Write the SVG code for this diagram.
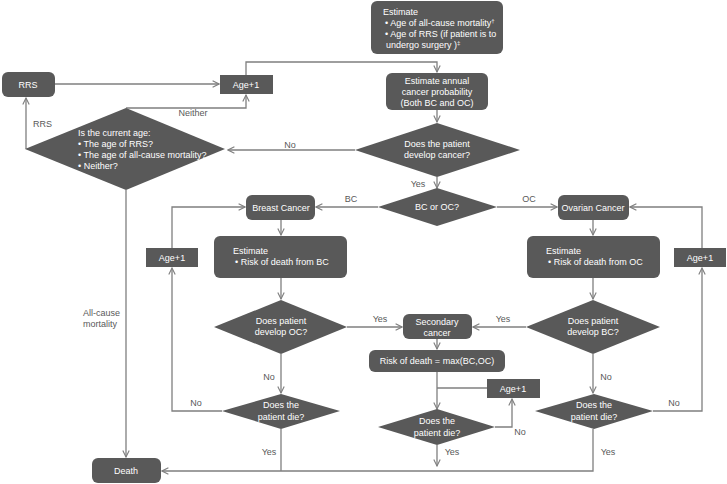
<svg xmlns="http://www.w3.org/2000/svg" width="727" height="484" viewBox="0 0 727 484">
<defs>
<marker id="arr" viewBox="0 0 10 10" refX="9" refY="5" markerWidth="8" markerHeight="8" markerUnits="userSpaceOnUse" orient="auto">
<path d="M1,1 L9,5 L1,9" fill="none" stroke="#7f7f7f" stroke-width="1.4"/>
</marker>
<style>
.n{fill:#595959;stroke:none}
.t{font-family:"Liberation Sans",Arial,sans-serif;font-size:9px;fill:#ffffff}
.c{text-anchor:middle}
.l{font-family:"Liberation Sans",Arial,sans-serif;font-size:9px;fill:#595959}
.e{fill:none;stroke:#7f7f7f;stroke-width:1.3}
.a{marker-end:url(#arr)}
</style>
</defs>
<rect width="727" height="484" fill="#ffffff"/>

<g id="connectors">
<path class="e a" d="M246,75 V62 H437 V72"/>
<path class="e a" d="M437,110 V122"/>
<path class="e a" d="M437,177 V188"/>
<path class="e a" d="M355,150 H228"/>
<path class="e a" d="M126,108 H246 V95"/>
<path class="e a" d="M55,84 H219"/>
<path class="e a" d="M26,149 V98"/>
<path class="e a" d="M126,190 V457"/>
<path class="e a" d="M378,207 H316"/>
<path class="e a" d="M497,207 H557"/>
<path class="e a" d="M172,248 V207 H245"/>
<path class="e a" d="M702,248 V207 H630"/>
<path class="e a" d="M281,220 V235"/>
<path class="e a" d="M593,220 V235"/>
<path class="e a" d="M281,278 V299"/>
<path class="e a" d="M593,278 V299"/>
<path class="e a" d="M347,327 H402"/>
<path class="e a" d="M526,327 H473"/>
<path class="e a" d="M437,339 V349"/>
<path class="e a" d="M437,372 V409"/>
<path class="e" d="M487,388 H437"/>
<path class="e a" d="M495,427 H512 V399"/>
<path class="e a" d="M437,445 V466"/>
<path class="e a" d="M281,354 V393"/>
<path class="e a" d="M593,354 V393"/>
<path class="e a" d="M222,411 H172 V268"/>
<path class="e a" d="M653,411 H702 V268"/>
<path class="e a" d="M593,429 V471 H162"/>
<path class="e" d="M281,429 V471"/>
<text class="l" x="290" y="148" text-anchor="middle">No</text>
<text class="l" x="193" y="116" text-anchor="middle">Neither</text>
<text class="l" x="33" y="127">RRS</text>
<text class="l" x="418" y="187" text-anchor="middle">Yes</text>
<text class="l" x="351" y="202" text-anchor="middle">BC</text>
<text class="l" x="529" y="202" text-anchor="middle">OC</text>
<text class="l" x="83" y="316">All-cause</text>
<text class="l" x="83" y="327">mortality</text>
<text class="l" x="380" y="322" text-anchor="middle">Yes</text>
<text class="l" x="503" y="322" text-anchor="middle">Yes</text>
<text class="l" x="269" y="380" text-anchor="middle">No</text>
<text class="l" x="606" y="380" text-anchor="middle">No</text>
<text class="l" x="196" y="406" text-anchor="middle">No</text>
<text class="l" x="674" y="406" text-anchor="middle">No</text>
<text class="l" x="520" y="435" text-anchor="middle">No</text>
<text class="l" x="269" y="455" text-anchor="middle">Yes</text>
<text class="l" x="452" y="455" text-anchor="middle">Yes</text>
<text class="l" x="608" y="455" text-anchor="middle">Yes</text>
</g>

<g id="estimate-top">
<rect class="n" x="371" y="1" width="132" height="53" rx="6"/>
<text class="t" x="383" y="15">Estimate</text>
<text class="t" x="385" y="26">• Age of all-cause mortality<tspan dy="-3" font-size="6">†</tspan></text>
<text class="t" x="385" y="37">• Age of RRS (if patient is to</text>
<text class="t" x="386" y="48">undergo surgery )<tspan dy="-3" font-size="6">‡</tspan></text>
</g>

<g id="estimate-annual">
<rect class="n" x="386" y="73" width="102" height="37" rx="6"/>
<text class="t c" x="437" y="84">Estimate annual</text>
<text class="t c" x="437" y="95">cancer probability</text>
<text class="t c" x="437" y="106">(Both BC and OC)</text>
</g>

<g id="develop-cancer">
<polygon class="n" points="437,123 520,150 437,177 355,150"/>
<text class="t c" x="437" y="147">Does the patient</text>
<text class="t c" x="437" y="158">develop cancer?</text>
</g>

<g id="rrs">
<rect class="n" x="2" y="72" width="53" height="25" rx="6"/>
<text class="t c" x="28" y="88">RRS</text>
</g>

<g id="age-top">
<rect class="n" x="220" y="75" width="53" height="19"/>
<text class="t c" x="246" y="88">Age+1</text>
</g>

<g id="current-age">
<polygon class="n" points="126,108 225,149 126,190 25,149"/>
<text class="t" x="78" y="136">Is the current age:</text>
<text class="t" x="78" y="147">• The age of RRS?</text>
<text class="t" x="78" y="158">• The age of all-cause mortality?</text>
<text class="t" x="78" y="169">• Neither?</text>
</g>

<g id="bc-or-oc">
<polygon class="n" points="437,188 497,207 437,226 378,207"/>
<text class="t c" x="437" y="210">BC or OC?</text>
</g>

<g id="breast-cancer">
<rect class="n" x="246" y="195" width="69" height="25" rx="6"/>
<text class="t c" x="281" y="211">Breast Cancer</text>
</g>

<g id="ovarian-cancer">
<rect class="n" x="558" y="195" width="71" height="25" rx="6"/>
<text class="t c" x="593" y="211">Ovarian Cancer</text>
</g>

<g id="age-bc">
<rect class="n" x="146" y="248" width="52" height="19"/>
<text class="t c" x="172" y="261">Age+1</text>
</g>

<g id="age-oc">
<rect class="n" x="674" y="248" width="52" height="19"/>
<text class="t c" x="700" y="261">Age+1</text>
</g>

<g id="estimate-bc">
<rect class="n" x="214" y="236" width="133" height="42" rx="6"/>
<text class="t" x="233" y="254">Estimate</text>
<text class="t" x="235" y="265">• Risk of death from BC</text>
</g>

<g id="estimate-oc">
<rect class="n" x="527" y="236" width="133" height="42" rx="6"/>
<text class="t" x="546" y="254">Estimate</text>
<text class="t" x="548" y="265">• Risk of death from OC</text>
</g>

<g id="develop-oc">
<polygon class="n" points="281,300 347,327 281,354 214,327"/>
<text class="t c" x="281" y="324">Does patient</text>
<text class="t c" x="281" y="335">develop OC?</text>
</g>

<g id="develop-bc">
<polygon class="n" points="593,300 660,327 593,354 526,327"/>
<text class="t c" x="593" y="324">Does patient</text>
<text class="t c" x="593" y="335">develop BC?</text>
</g>

<g id="secondary">
<rect class="n" x="403" y="314" width="69" height="25" rx="6"/>
<text class="t c" x="437" y="325">Secondary</text>
<text class="t c" x="437" y="336">cancer</text>
</g>

<g id="risk-max">
<rect class="n" x="369" y="350" width="136" height="22" rx="6"/>
<text class="t c" x="437" y="364">Risk of death = max(BC,OC)</text>
</g>

<g id="age-mid">
<rect class="n" x="487" y="379" width="53" height="19"/>
<text class="t c" x="513" y="392">Age+1</text>
</g>

<g id="die-bc">
<polygon class="n" points="281,394 340,411 281,429 222,411"/>
<text class="t c" x="281" y="408">Does the</text>
<text class="t c" x="281" y="420">patient die?</text>
</g>

<g id="die-mid">
<polygon class="n" points="437,409 495,427 437,445 378,427"/>
<text class="t c" x="437" y="424">Does the</text>
<text class="t c" x="437" y="436">patient die?</text>
</g>

<g id="die-oc">
<polygon class="n" points="594,394 653,411 594,429 535,411"/>
<text class="t c" x="594" y="408">Does the</text>
<text class="t c" x="594" y="420">patient die?</text>
</g>

<g id="death">
<rect class="n" x="92" y="458" width="69" height="25" rx="6"/>
<text class="t c" x="126" y="474">Death</text>
</g>
</svg>
